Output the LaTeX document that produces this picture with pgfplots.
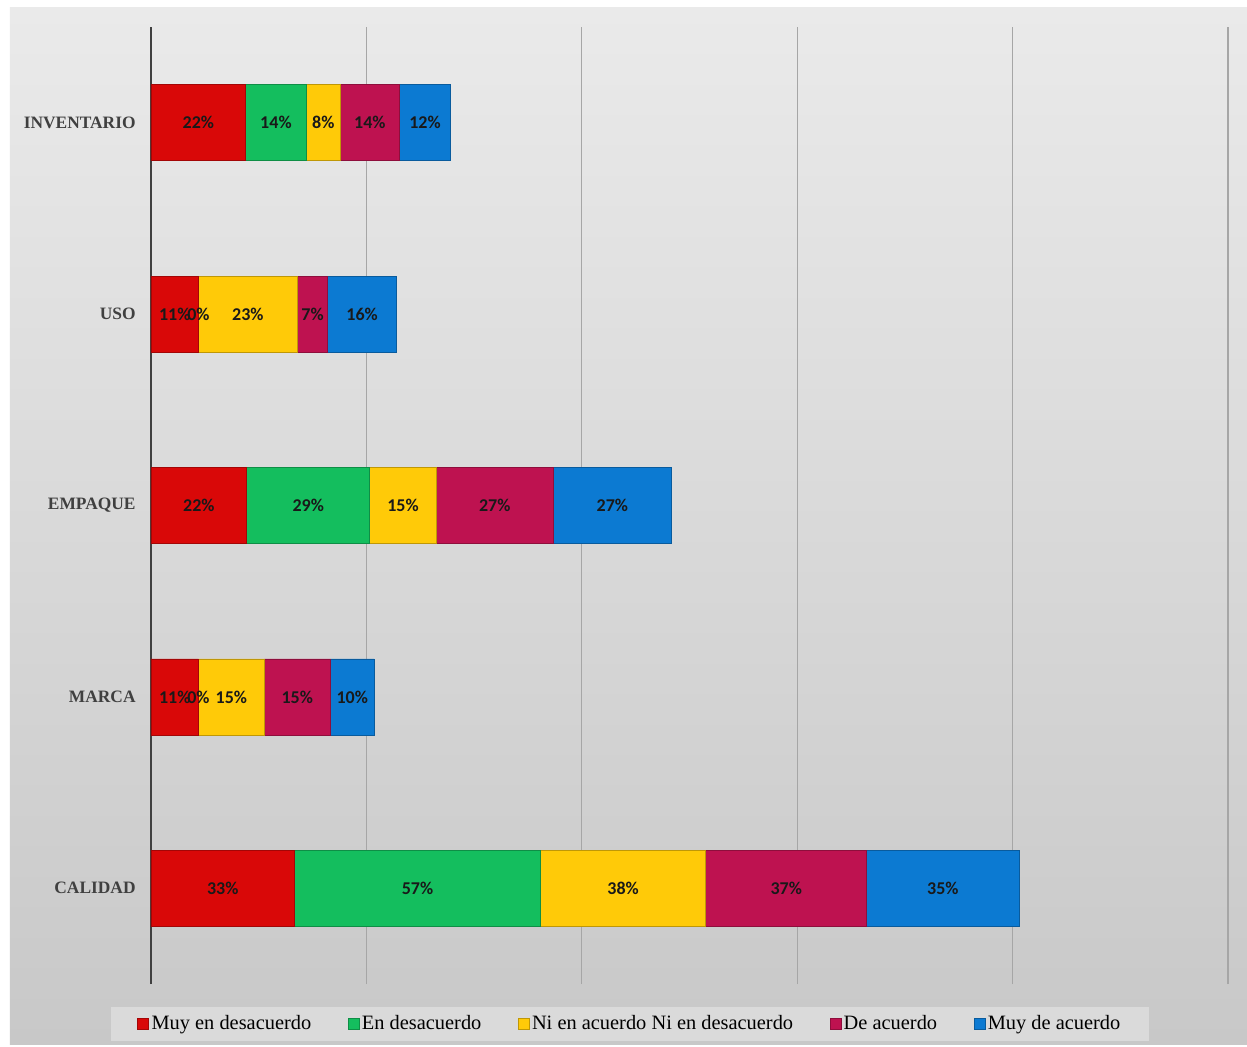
\documentclass[border=0pt]{standalone}
\usepackage{fontspec}
\setmainfont{Liberation Serif}
\newfontfamily\lblfont{Carlito}
\usepackage{pgfplots}
\pgfplotsset{compat=1.18}
\definecolor{cRed}{HTML}{D90808}
\definecolor{cGreen}{HTML}{14BE5E}
\definecolor{cYellow}{HTML}{FFCA08}
\definecolor{cCrimson}{HTML}{BE1250}
\definecolor{cBlue}{HTML}{0C7AD2}
\definecolor{bgTop}{HTML}{EAEAEA}
\definecolor{bgBot}{HTML}{C8C8C8}
\definecolor{legendgray}{HTML}{DADADA}
\begin{document}
\begin{tikzpicture}
\fill[white] (-75.5pt,-31pt) rectangle (548pt,492pt);
\shade[top color=bgTop, bottom color=bgBot] (-70.5pt,-30pt) rectangle (548pt,488pt);
\begin{axis}[
  scale only axis, width=538.5pt, height=478.5pt,
  xbar stacked, bar width=38pt,
  xmin=0, xmax=250, ymin=-0.5, ymax=4.5,
  xtick={50,100,150,200,250}, xticklabels={},
  xmajorgrids, major grid style={color=black!35, line width=0.6pt},
  extra x ticks={0}, extra x tick labels={},
  extra x tick style={grid=major, major grid style={color=black!75, line width=1.2pt}},
  ytick={0,1,2,3,4}, yticklabels={CALIDAD,MARCA,EMPAQUE,USO,INVENTARIO},
  yticklabel style={font=\fontsize{8.7}{10}\selectfont\bfseries, text=black!75, inner sep=0pt, xshift=-7.5pt},
  major tick length=0pt,
  axis line style={draw=none},
  legend columns=5,
  legend style={at={(0.4448,-0.0418)}, anchor=center, fill=legendgray, draw=none,
    font=\fontsize{10.2}{12}\selectfont, inner xsep=13pt, inner ysep=3pt,
    nodes={inner sep=1.2pt},
    /tikz/every even column/.append style={column sep=17pt}},
  legend image code/.code={\fill[#1] (0pt,-2.75pt) rectangle (5.5pt,2.75pt);},
]
\addplot[fill=cRed, draw=cRed!75!black, line width=0.4pt] coordinates {(33.3,0) (11,1) (22.2,2) (11,3) (22,4)};
\addplot[fill=cGreen, draw=cGreen!75!black, line width=0.4pt] coordinates {(57.1,0) (0,1) (28.6,2) (0,3) (14,4)};
\addplot[fill=cYellow, draw=cYellow!75!black, line width=0.4pt] coordinates {(38.4,0) (15.3,1) (15.4,2) (23,3) (8,4)};
\addplot[fill=cCrimson, draw=cCrimson!75!black, line width=0.4pt] coordinates {(37.3,0) (15.3,1) (27.2,2) (7,3) (13.6,4)};
\addplot[fill=cBlue, draw=cBlue!75!black, line width=0.4pt] coordinates {(35.4,0) (10.2,1) (27.4,2) (16,3) (12,4)};
\legend{Muy en desacuerdo, En desacuerdo, Ni en acuerdo Ni en desacuerdo, De acuerdo, Muy de acuerdo}
\end{axis}
\begin{axis}[
  scale only axis, width=538.5pt, height=478.5pt,
  xmin=0, xmax=250, ymin=-0.5, ymax=4.5, hide axis,
  nodes near coords, point meta=explicit symbolic,
  every node near coord/.style={anchor=center, inner sep=0pt, font=\lblfont\bfseries\fontsize{9}{10}\selectfont, text=black!90},
]
\addplot[draw=none] coordinates {
(16.65,0) [33\%] (61.85,0) [57\%] (109.6,0) [38\%] (147.45,0) [37\%] (183.8,0) [35\%]
(5.5,1) [11\%] (11,1) [0\%] (18.65,1) [15\%] (33.95,1) [15\%] (46.7,1) [10\%]
(11.1,2) [22\%] (36.5,2) [29\%] (58.5,2) [15\%] (79.8,2) [27\%] (107.1,2) [27\%]
(5.5,3) [11\%] (11,3) [0\%] (22.5,3) [23\%] (37.5,3) [7\%] (49,3) [16\%]
(11,4) [22\%] (29,4) [14\%] (40,4) [8\%] (50.8,4) [14\%] (63.6,4) [12\%]
};
\end{axis}
\end{tikzpicture}
\end{document}
